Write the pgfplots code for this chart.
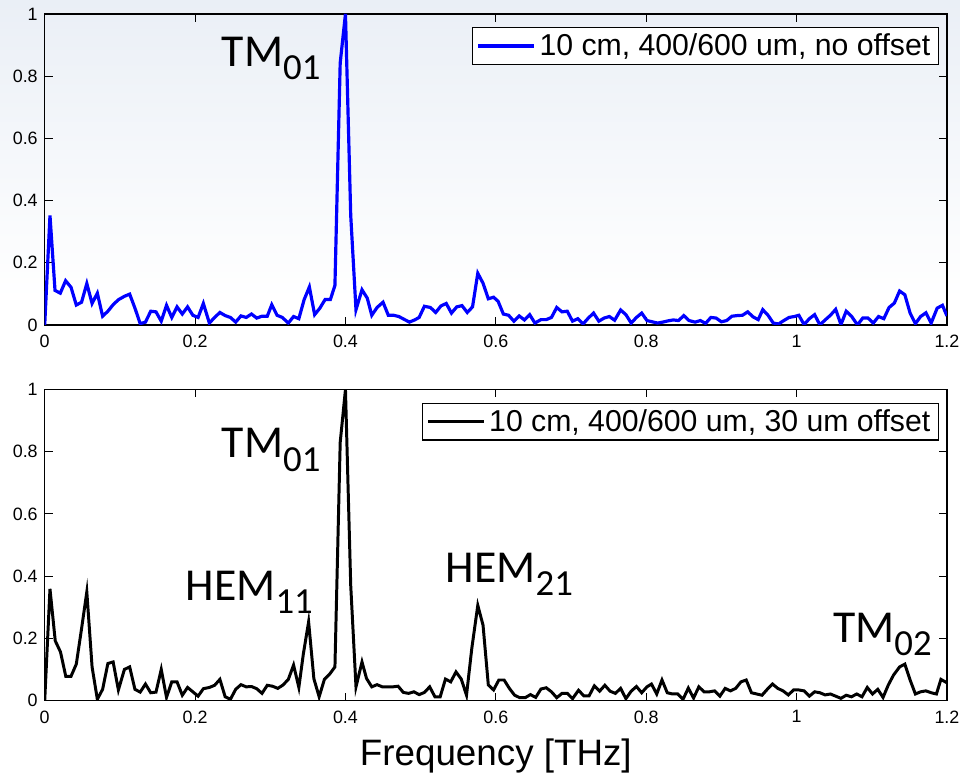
\documentclass[border=0pt]{standalone}
\usepackage{fontspec}
\setmainfont{Liberation Sans}
\newfontfamily\calibri{Carlito}
\usepackage{pgfplots}
\usepackage{pgfplotstable}
\pgfplotsset{compat=1.18}

\definecolor{slidetop}{RGB}{234,239,246}

% mode label: big letters, large subscript
\newcommand{\mode}[2]{{\calibri\fontsize{23}{23}\selectfont #1\raisebox{-6.8pt}{\fontsize{18.5}{18.5}\selectfont #2}}}

\pgfplotstableread{
f a
0 0
0.007 0.352
0.0137 0.111
0.0207 0.102
0.0278 0.142
0.035 0.121
0.042 0.064
0.049 0.073
0.056 0.133
0.063 0.069
0.070 0.102
0.077 0.028
0.084 0.044
0.091 0.065
0.098 0.081
0.106 0.092
0.113 0.099
0.120 0.054
0.127 0.004
0.134 0.009
0.141 0.044
0.148 0.042
0.155 0.012
0.162 0.063
0.169 0.024
0.176 0.058
0.183 0.035
0.190 0.058
0.197 0.031
0.204 0.024
0.211 0.069
0.219 0.006
0.226 0.024
0.233 0.040
0.240 0.030
0.247 0.024
0.254 0.009
0.261 0.029
0.268 0.024
0.275 0.035
0.282 0.022
0.289 0.028
0.296 0.028
0.302 0.065
0.309 0.031
0.316 0.024
0.324 0.006
0.331 0.027
0.338 0.020
0.345 0.081
0.352 0.122
0.359 0.033
0.366 0.054
0.373 0.082
0.380 0.082
0.386 0.127
0.393 0.842
0.400 1.000
0.407 0.352
0.414 0.049
0.422 0.113
0.429 0.086
0.435 0.031
0.442 0.056
0.450 0.073
0.457 0.031
0.464 0.031
0.471 0.027
0.478 0.018
0.485 0.009
0.492 0.016
0.498 0.024
0.505 0.060
0.513 0.056
0.520 0.040
0.527 0.061
0.534 0.069
0.541 0.038
0.548 0.058
0.555 0.062
0.562 0.040
0.569 0.058
0.576 0.166
0.583 0.134
0.590 0.084
0.597 0.089
0.603 0.076
0.610 0.035
0.617 0.031
0.624 0.012
0.631 0.029
0.638 0.016
0.645 0.033
0.652 0.006
0.660 0.017
0.667 0.017
0.674 0.024
0.681 0.056
0.688 0.042
0.695 0.044
0.702 0.012
0.709 0.020
0.716 0.003
0.723 0.022
0.730 0.038
0.737 0.012
0.744 0.022
0.751 0.027
0.758 0.015
0.766 0.048
0.773 0.033
0.780 0.006
0.787 0.024
0.794 0.038
0.801 0.014
0.808 0.010
0.815 0.006
0.822 0.009
0.829 0.013
0.836 0.016
0.843 0.014
0.850 0.030
0.857 0.014
0.865 0.009
0.872 0.014
0.879 0.005
0.886 0.024
0.893 0.022
0.900 0.010
0.907 0.014
0.914 0.028
0.921 0.030
0.928 0.031
0.935 0.042
0.942 0.026
0.949 0.017
0.955 0.049
0.962 0.031
0.969 0.006
0.976 0.003
0.983 0.014
0.990 0.024
0.997 0.027
1.003 0.031
1.010 0.001
1.017 0.020
1.024 0.033
1.031 0.000
1.038 0.016
1.045 0.031
1.052 0.050
1.059 0.001
1.066 0.044
1.073 0.028
1.081 0.000
1.088 0.022
1.095 0.022
1.102 0.006
1.109 0.027
1.116 0.020
1.123 0.056
1.130 0.070
1.137 0.109
1.144 0.097
1.151 0.038
1.158 0.004
1.165 0.027
1.172 0.039
1.179 0.006
1.187 0.054
1.194 0.063
1.200 0.029
}\nooffset

\pgfplotstableread{
f a
0 0
0.007 0.359
0.014 0.192
0.021 0.156
0.028 0.078
0.035 0.078
0.042 0.117
0.049 0.231
0.056 0.349
0.063 0.108
0.070 0.004
0.077 0.036
0.084 0.119
0.091 0.124
0.098 0.034
0.106 0.100
0.113 0.108
0.120 0.036
0.127 0.027
0.134 0.053
0.141 0.025
0.148 0.027
0.155 0.100
0.162 0.010
0.169 0.060
0.176 0.060
0.183 0.017
0.190 0.042
0.197 0.028
0.204 0.014
0.211 0.038
0.219 0.042
0.226 0.049
0.233 0.068
0.240 0.012
0.247 0.004
0.254 0.036
0.261 0.051
0.268 0.044
0.275 0.045
0.282 0.038
0.289 0.023
0.296 0.049
0.303 0.046
0.310 0.039
0.317 0.050
0.324 0.068
0.331 0.114
0.338 0.042
0.344 0.150
0.351 0.253
0.358 0.070
0.365 0.012
0.372 0.068
0.379 0.085
0.386 0.108
0.393 0.830
0.400 1.000
0.407 0.370
0.414 0.044
0.422 0.124
0.428 0.071
0.435 0.044
0.442 0.051
0.449 0.044
0.456 0.044
0.463 0.044
0.470 0.046
0.477 0.026
0.484 0.023
0.491 0.028
0.498 0.019
0.505 0.026
0.512 0.044
0.519 0.012
0.526 0.012
0.533 0.069
0.540 0.060
0.547 0.092
0.554 0.069
0.561 0.017
0.568 0.167
0.576 0.306
0.583 0.242
0.590 0.050
0.597 0.034
0.604 0.066
0.611 0.066
0.618 0.039
0.625 0.017
0.632 0.009
0.639 0.009
0.646 0.019
0.653 0.010
0.660 0.037
0.667 0.041
0.674 0.028
0.681 0.009
0.688 0.023
0.695 0.023
0.702 0.006
0.710 0.033
0.717 0.015
0.724 0.015
0.731 0.047
0.738 0.030
0.745 0.049
0.752 0.030
0.759 0.023
0.766 0.039
0.773 0.006
0.780 0.030
0.787 0.045
0.794 0.025
0.801 0.044
0.807 0.053
0.814 0.021
0.821 0.066
0.828 0.025
0.835 0.021
0.842 0.021
0.849 0.004
0.856 0.040
0.863 0.008
0.870 0.044
0.877 0.028
0.884 0.028
0.891 0.031
0.898 0.014
0.905 0.039
0.912 0.031
0.919 0.039
0.926 0.060
0.933 0.066
0.940 0.025
0.947 0.021
0.954 0.017
0.961 0.036
0.968 0.053
0.975 0.039
0.982 0.031
0.989 0.018
0.996 0.034
1.003 0.034
1.010 0.031
1.017 0.014
1.024 0.028
1.031 0.025
1.038 0.018
1.045 0.021
1.052 0.014
1.059 0.007
1.066 0.017
1.073 0.012
1.080 0.021
1.087 0.012
1.094 0.042
1.101 0.021
1.108 0.036
1.115 0.010
1.122 0.050
1.129 0.082
1.137 0.108
1.144 0.117
1.151 0.066
1.158 0.021
1.165 0.028
1.172 0.031
1.179 0.025
1.186 0.021
1.192 0.068
1.200 0.057
}\withoffset

\pgfplotsset{
  spec/.style={
    scale only axis,
    width=454pt, height=156.5pt,
    xmin=0, xmax=1.2, ymin=0, ymax=1,
    xtick={0,0.2,0.4,0.6,0.8,1,1.2},
    ytick={0,0.2,0.4,0.6,0.8,1},
    tick align=inside,
    major tick length=4pt,
    axis line style={line width=0.75pt},
    every tick/.style={black, line width=0.5pt},
    ticklabel style={font=\fontsize{9}{10}\selectfont},
    xticklabel style={yshift=-1.5pt},
    /pgf/number format/assume math mode=true,
    legend style={font=\fontsize{15.2}{16}\selectfont, draw=black, line width=0.6pt,
      fill=white, at={(0.991,0.958)}, anchor=north east,
      inner xsep=2pt, inner ysep=1pt},
    legend cell align=left,
    legend image code/.code={\draw[#1] (0pt,0pt) -- (28pt,0pt);},
  },
}

\begin{document}
\begin{tikzpicture}
\shade[top color=slidetop, bottom color=white] (0pt,237pt) rectangle (483pt,387.5pt);
\path (0pt,0pt) rectangle (483pt,387.5pt);

\begin{axis}[spec, at={(22.5pt,224pt)}, anchor=south west]
\addplot[blue, line width=1.6pt] table[x=f, y=a] {\nooffset};
\addlegendentry{10 cm, 400/600 um, no offset}
\node[anchor=base west, inner sep=0pt] at (axis cs:0.235,0.832) {\mode{TM}{01}};
\end{axis}

\begin{axis}[spec, at={(22.5pt,35pt)}, anchor=south west,
  xlabel={Frequency [THz]},
  xlabel style={font=\fontsize{18.5}{20}\selectfont, yshift=-1pt}]
\addplot[black, line width=1.5pt] table[x=f, y=a] {\withoffset};
\addlegendentry{10 cm, 400/600 um, 30 um offset}
\node[anchor=base west, inner sep=0pt] at (axis cs:0.235,0.78) {\mode{TM}{01}};
\node[anchor=base west, inner sep=0pt] at (axis cs:0.187,0.322) {\mode{HEM}{11}};
\node[anchor=base west, inner sep=0pt] at (axis cs:0.533,0.381) {\mode{HEM}{21}};
\node[anchor=base west, inner sep=0pt] at (axis cs:1.048,0.188) {\mode{TM}{02}};
\end{axis}
\end{tikzpicture}
\end{document}
